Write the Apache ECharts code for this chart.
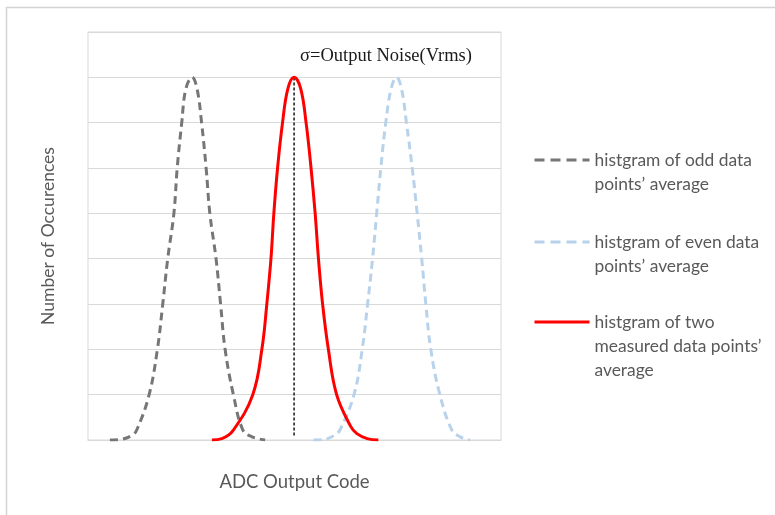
<!DOCTYPE html>
<html>
<head>
<meta charset="utf-8">
<script src="https://cdn.jsdelivr.net/npm/echarts@6/dist/echarts.min.js"></script>
<style>
html,body{margin:0;padding:0;background:#fff;}
#chart{width:775px;height:515px;}
</style>
</head>
<body>
<div id="chart"></div>
<script>
// Data: [ADC code (0-100 scale), occurrences]
const oddAvg = [[5.3,0],[7.7,0.01],[10.6,0.1],[11.8,0.22],[14.8,1],[16.8,2],[18.1,3],[19.3,4],[20.8,5],[21.6,6],[22.7,7],[23.7,7.75],[25.2,8],[26.4,7.75],[27.5,7],[28.6,6],[29.5,5],[31.0,4],[32.1,3],[33.2,2],[35.2,1],[37.5,0.22],[39.7,0.07],[42.9,0]];
const evenAvg = [[54.6,0],[56.9,0.01],[59.6,0.1],[61.0,0.22],[64.4,1],[66.4,2],[67.7,3],[68.9,4],[69.9,5],[70.9,6],[72.1,7],[73.4,7.75],[74.7,8],[75.9,7.75],[77.1,7],[78.5,6],[79.7,5],[80.8,4],[81.8,3],[83.0,2],[85.2,1],[88.1,0.22],[90.1,0.07],[92.5,0]];
const twoAvg = [[30.0,0],[32.4,0.03],[35.2,0.22],[39.9,1],[42.1,2],[43.3,3],[44.3,4],[45.0,5],[45.9,6],[47.1,7],[48.4,7.75],[49.9,8],[51.5,7.75],[52.8,7],[54.0,6],[55.0,5],[55.8,4],[56.8,3],[58.2,2],[60.2,1],[63.6,0.3],[65.1,0.14],[67.6,0.03],[70.3,0]];
const sigmaLine = [[49.9,0.1],[49.9,8]];
const seriesNames = ['histgram of odd data points\u2019 average','histgram of even data points\u2019 average','histgram of two measured data points\u2019 average'];
const legendLines = [['histgram of odd data','points\u2019 average'],['histgram of even data','points\u2019 average'],['histgram of two','measured data points\u2019','average']];
const annotation = '\u03c3=Output Noise(Vrms)';
const xTitle = 'ADC Output Code';
const yTitle = 'Number of Occurences';

const chart = echarts.init(document.getElementById('chart'));
const FONT = 'Lato';
const legendColors = ['#767676', '#b7d2ea', '#ff0000'];
const legendDash = [[10,6],[10,6],'solid'];
function legendFor(i, top) {
  // pad with blank lines above so the icon sits on the first text line
  const lines = legendLines[i];
  const pad = [];
  for (let k = 1; k < lines.length; k++) pad.push(' ');
  const txt = pad.concat(lines).join('\n');
  return {
    data: [seriesNames[i]], left: 533, top: top, orient: 'vertical',
    itemWidth: 55, itemHeight: 14, itemGap: 0, padding: 0,
    formatter: () => txt,
    itemStyle: {opacity: 0},
    lineStyle: {color: legendColors[i], width: 3, type: legendDash[i]},
    textStyle: {fontFamily: FONT, fontSize: 17.4, color: '#595959', lineHeight: 24},
    selectedMode: false
  };
}
chart.setOption({
  animation: false,
  backgroundColor: '#fff',
  grid: {left: 88, right: 274, top: 32, bottom: 75, show: true, borderColor: '#d9d9d9', borderWidth: 1},
  xAxis: {
    type: 'value', min: 0, max: 100,
    axisLine: {show: true, lineStyle: {color: '#d9d9d9'}},
    axisTick: {show: false}, axisLabel: {show: false}, splitLine: {show: false},
    name: xTitle, nameLocation: 'middle', nameGap: 33,
    nameTextStyle: {fontFamily: FONT, fontSize: 18.5, color: '#595959'}
  },
  yAxis: {
    type: 'value', min: 0, max: 9, interval: 1,
    axisLine: {show: false}, axisTick: {show: false}, axisLabel: {show: false},
    splitLine: {lineStyle: {color: '#d9d9d9', width: 1}},
    name: yTitle, nameLocation: 'middle', nameGap: 31, nameRotate: 90,
    nameTextStyle: {fontFamily: FONT, fontSize: 17.5, color: '#595959'}
  },
  legend: [legendFor(0, 124), legendFor(1, 206), legendFor(2, 262)],
  series: [
    {name: seriesNames[0], type: 'line', data: oddAvg, smooth: 0.4, symbol: 'none',
     lineStyle: {color: '#767676', width: 3, type: [8,5]}, itemStyle: {color: '#767676'}, z: 2},
    {name: seriesNames[1], type: 'line', data: evenAvg, smooth: 0.4, symbol: 'none',
     lineStyle: {color: '#b7d2ea', width: 3, type: [8,5]}, itemStyle: {color: '#b7d2ea'}, z: 2},
    {name: seriesNames[2], type: 'line', data: twoAvg, smooth: 0.4, symbol: 'none',
     lineStyle: {color: '#ff0000', width: 3}, itemStyle: {color: '#ff0000'}, z: 4},
    {name: 'sigma', type: 'line', data: sigmaLine, symbol: 'none', z: 3,
     lineStyle: {color: '#262626', width: 1.6, type: [3,2]}}
  ],
  graphic: [
    {type: 'rect', shape: {x: 6.5, y: 7.5, width: 800, height: 600}, style: {fill: 'none', stroke: '#d4d4d4', lineWidth: 1.5}, silent: true},
    {type: 'text', left: 300, top: 47, style: {text: annotation, font: '18.5px "Liberation Serif"', fill: '#1a1a1a'}}
  ]
});
</script>
</body>
</html>
